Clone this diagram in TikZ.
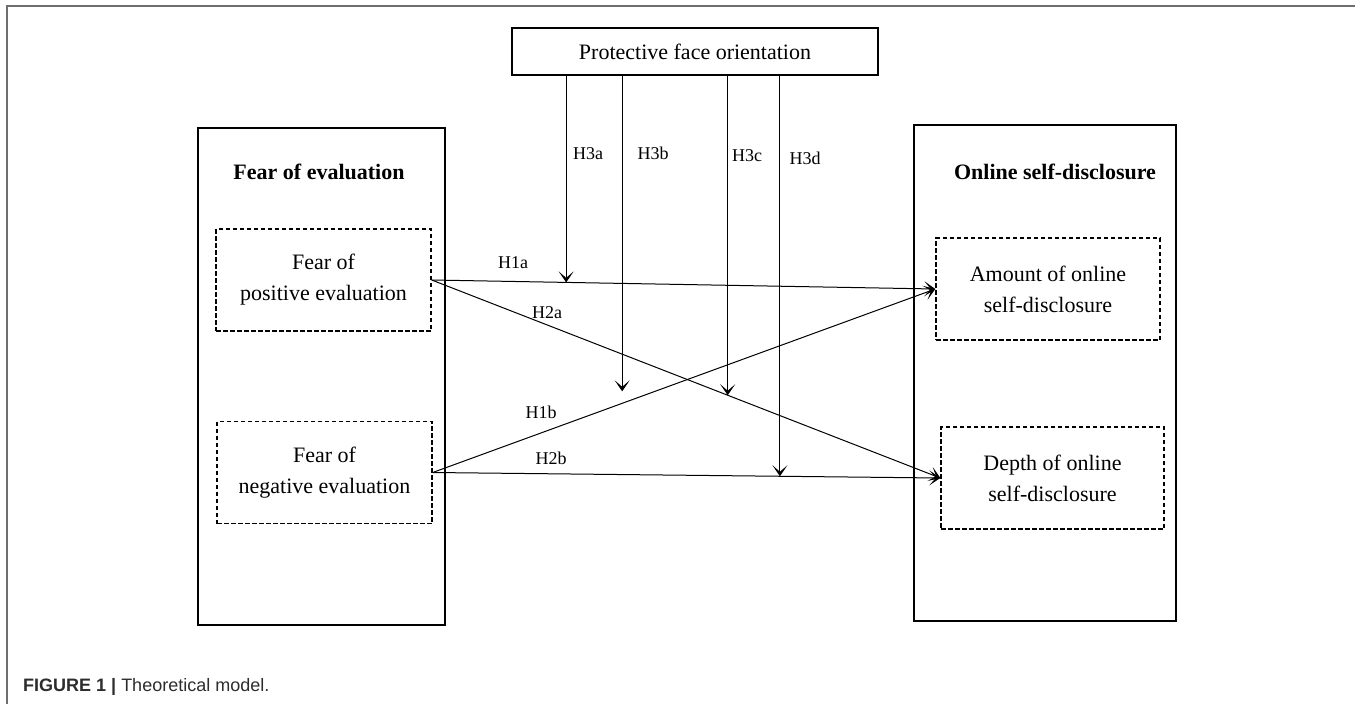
\documentclass[tikz,border=0pt]{standalone}
\usepackage{fontspec}
\setmainfont{Liberation Serif}
\newfontfamily\capfont{Liberation Sans}
\usetikzlibrary{arrows.meta,calc,positioning}
\definecolor{framegray}{RGB}{110,110,110}
\definecolor{captext}{RGB}{45,45,45}

\begin{document}
\begin{tikzpicture}[
      x=1pt, y=-1pt,
      bigbox/.style={draw, line width=1.5pt, inner sep=0pt},
      subbox/.style={draw, dashed, dash pattern=on 4.5pt off 2.5pt, line width=1.4pt, align=center, inner sep=0pt, minimum height=102pt, font=\fontsize{22}{31}\selectfont},
      title/.style={font=\bfseries\fontsize{22}{26}\selectfont},
      hyp/.style={font=\fontsize{18}{20}\selectfont, inner sep=1pt},
      arr/.style={-{Stealth[length=11pt, width=15pt, inset=6.5pt]}, line width=1pt}
    ]
      \useasboundingbox (0,0) rectangle (1355,704);
      \draw[framegray, line width=1.5pt] (7,704) -- (7,6) -- (1355,6);

      % moderator
      \node[draw, line width=1.6pt, minimum width=366pt, minimum height=47pt, inner sep=0pt,
            font=\fontsize{22}{26}\selectfont] (pfo) at (695,51.5) {Protective face orientation};

      % predictor side
      \node[bigbox, minimum width=247pt, minimum height=497pt] (fear) at (321.5,376.5) {};
      \node[title] (feartitle) at (319,172) {Fear of evaluation};
      \node[subbox, minimum width=215pt] (fpe) at (323.5,280) {Fear of\\positive evaluation};
      \node[subbox, minimum width=215pt] (fne) at (324.5,472.5) {Fear of\\negative evaluation};

      % outcome side
      \node[bigbox, minimum width=262pt, minimum height=496pt] (osd) at (1045,373) {};
      \node[title] (osdtitle) at (1055,172) {Online self-disclosure};
      \node[subbox, minimum width=224pt] (amt) at (1048,289) {Amount of online\\self-disclosure};
      \node[subbox, minimum width=223pt] (dep) at (1052.5,478) {Depth of online\\self-disclosure};

      % direct paths
      \draw[arr] (fpe.east) -- (amt.west) coordinate[pos=0.267] (m1a);
      \draw[arr] (fpe.east) -- (dep.west) coordinate[pos=0.582] (m2a);
      \draw[arr] (fne.east) -- (amt.west) coordinate[pos=0.377] (m1b);
      \draw[arr] (fne.east) -- (dep.west) coordinate[pos=0.684] (m2b);

      % moderating paths
      \draw[arr] (m1a |- pfo.south) -- (m1a);
      \draw[arr] (m1b |- pfo.south) -- ([yshift=12pt]m1b);
      \draw[arr] (m2a |- pfo.south) -- (m2a);
      \draw[arr] (m2b |- pfo.south) -- (m2b);

      % labels
      \node[hyp] (h1a) at (513,263) {H1a};
      \node[hyp] (h2a) at (547,313) {H2a};
      \node[hyp] (h1b) at (541,412) {H1b};
      \node[hyp] (h2b) at (551,458) {H2b};
      \node[hyp] (h3a) at (588,154) {H3a};
      \node[hyp] (h3b) at (653,153) {H3b};
      \node[hyp] (h3c) at (747,156) {H3c};
      \node[hyp] (h3d) at (805,158) {H3d};

      \node[anchor=base west, inner sep=0pt, text=captext, font=\capfont\fontsize{18}{20}\selectfont]
        (cap) at (23,691) {\textbf{FIGURE 1 |} Theoretical model.};
    \end{tikzpicture}
\end{document}
